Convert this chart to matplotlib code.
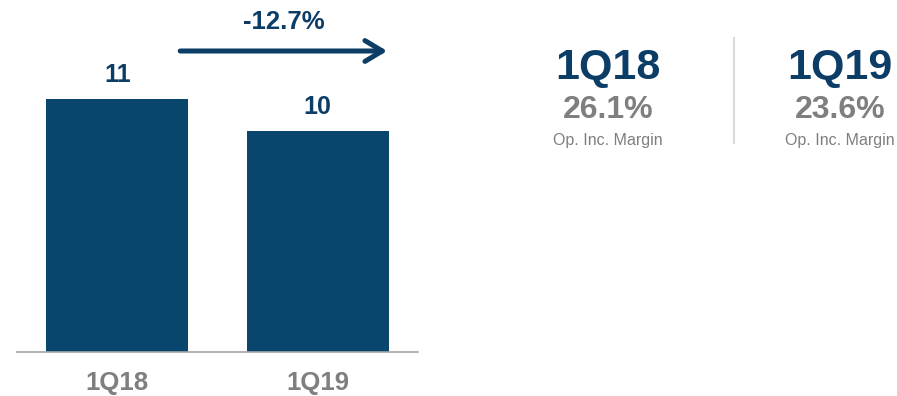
import matplotlib.pyplot as plt
from matplotlib.lines import Line2D

# operating income by quarter
quarters = ["1Q18", "1Q19"]
op_income = [11.4, 9.95]
change_label = "-12.7%"

# operating income margin
margins = ["26.1%", "23.6%"]
margin_caption = "Op. Inc. Margin"

blue = "#08466e"
label_blue = "#0b3d66"
grey = "#7f7f7f"

plt.rcParams["font.family"] = ["Liberation Sans", "DejaVu Sans"]

fig = plt.figure(figsize=(8.97, 3.96), dpi=100)

# bar axes: baseline at y=352px, spanning x=17..418px
W, H = 897, 396
ax = fig.add_axes([17 / W, (H - 352) / H, (418 - 17) / W, 352 / H])
x = range(len(quarters))
ax.bar(x, op_income, width=0.706, color=blue, zorder=2)
ax.set_xlim(-0.5, 1.5)
ax.set_ylim(0, max(op_income) * 352 / 253)

for i, v in zip(x, op_income):
    ax.annotate(f"{v:.0f}", (i, v), xytext=(0, 9), textcoords="offset points",
                ha="center", va="bottom", fontsize=18, fontweight="bold",
                color=label_blue)

for s in ["top", "right", "left"]:
    ax.spines[s].set_visible(False)
ax.spines["bottom"].set_color("#a6a6a6")
ax.spines["bottom"].set_linewidth(1.2)
ax.set_yticks([])
ax.set_xticks(list(x))
ax.set_xticklabels(quarters, fontsize=18.5, fontweight="bold", color=grey)
ax.tick_params(axis="x", length=0, pad=14)

# change arrow between the two quarters
arrow_y = max(op_income) * (352 - 51) / 253
ax.annotate("", xy=(1.36, arrow_y), xytext=(0.30, arrow_y),
            arrowprops=dict(arrowstyle="->,head_length=1.25,head_width=0.75",
                            color=label_blue, lw=3.6), annotation_clip=False)
ax.annotate(change_label, (0.83, arrow_y), xytext=(0, 12),
            textcoords="offset points", ha="center", va="bottom",
            fontsize=18.5, fontweight="bold", color=label_blue,
            annotation_clip=False)

# margin summary on the right
for xc, q, m in zip([608 / W, 840 / W], quarters, margins):
    fig.text(xc, 0.828, q, ha="center", va="center", fontsize=31,
             fontweight="bold", color=label_blue)
    fig.text(xc, 0.722, m, ha="center", va="center", fontsize=23,
             fontweight="bold", color=grey)
    fig.text(xc, 0.644, margin_caption, ha="center", va="center",
             fontsize=11.5, color=grey)

fig.add_artist(Line2D([734 / W, 734 / W], [0.904, 0.639], color="#d9d9d9",
                      lw=1.5, transform=fig.transFigure))

fig.savefig("out.png", dpi=100)
